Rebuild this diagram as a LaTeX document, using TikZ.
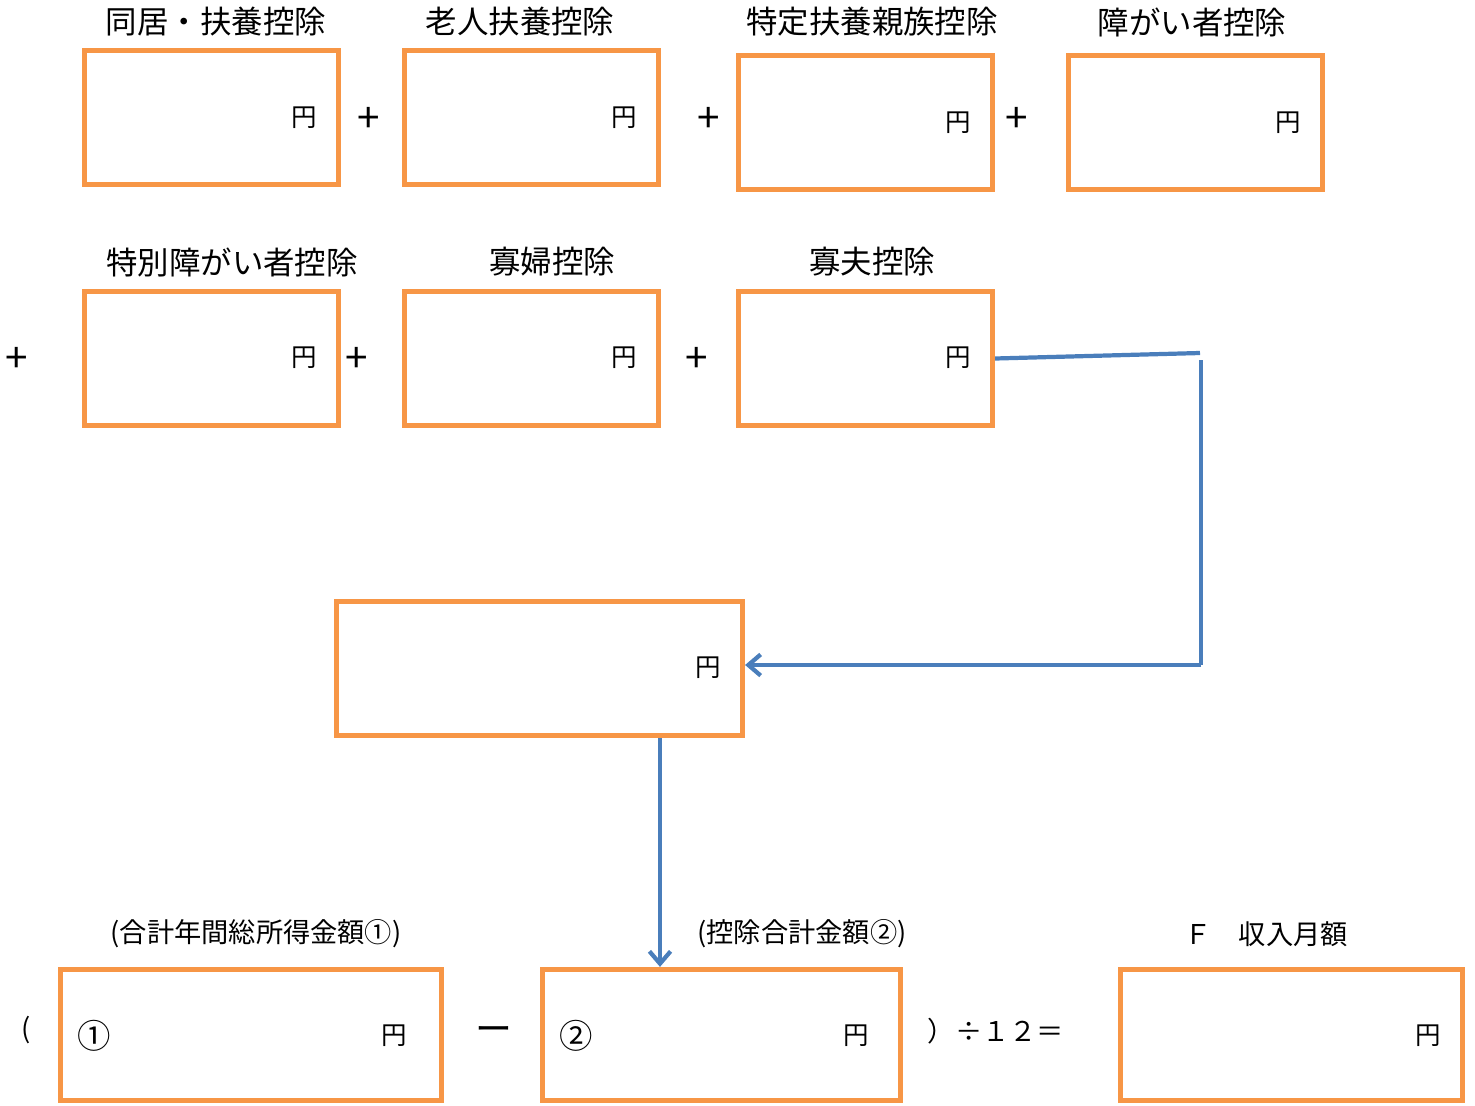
\documentclass[tikz,border=0pt]{standalone}
\usepackage{fontspec}
\setmainfont{Noto Sans CJK JP}
\usetikzlibrary{arrows.meta}
\definecolor{boxorange}{HTML}{F79646}
\definecolor{flowblue}{HTML}{4A7EBB}
\tikzset{
  kojo/.style={draw=boxorange, line width=3pt, minimum width=5.08cm, minimum height=2.68cm, inner sep=0pt},
  title/.style={font=\fontsize{17.9}{20}\selectfont, inner sep=0pt},
  yen/.style={font=\fontsize{14.5}{16}\selectfont, inner sep=0pt},
  op/.style={font=\fontsize{23}{25}\selectfont, inner sep=0pt},
  sub/.style={font=\fontsize{15.5}{17}\selectfont, inner sep=0pt},
  circ/.style={font=\fontsize{19}{21}\selectfont, inner sep=0pt},
  flow/.style={draw=flowblue, line width=2.4pt},
  tip/.style={-{Straight Barb[length=7pt,width=12pt]}},
}
\begin{document}
\begin{tikzpicture}[x=0.02cm, y=-0.02cm]
  \useasboundingbox (0,0) rectangle (1475,1106);
  % first row of deductions
  \node [kojo] (b1) at (211.5,117.5) {};
  \node [kojo] (b2) at (531.5,117.5) {};
  \node [kojo] (b3) at (865.5,122.5) {};
  \node [kojo] (b4) at (1195.5,122.5) {};
  \node [title] (t1) at (216,22) {同居・扶養控除};
  \node [title] (t2) at (520,22) {老人扶養控除};
  \node [title] (t3) at (872,22) {特定扶養親族控除};
  \node [title] (t4) at (1192,22) {障がい者控除};
  \node [yen] (y1) at (304,118) {円};
  \node [yen] (y2) at (624,118) {円};
  \node [yen] (y3) at (958,123) {円};
  \node [yen] (y4) at (1288,123) {円};
  \node [op] (p1) at (369,120) {+};
  \node [op] (p2) at (709,120) {+};
  \node [op] (p3) at (1017,120) {+};
  % second row
  \node [kojo] (b5) at (211.5,358.5) {};
  \node [kojo] (b6) at (531.5,358.5) {};
  \node [kojo] (b7) at (865.5,358.5) {};
  \node [title] (t5) at (232,262) {特別障がい者控除};
  \node [title] (t6) at (552,262) {寡婦控除};
  \node [title] (t7) at (872,262) {寡夫控除};
  \node [yen] (y5) at (304,358) {円};
  \node [yen] (y6) at (624,358) {円};
  \node [yen] (y7) at (958,358) {円};
  \node [op] (p4) at (17,360) {+};
  \node [op] (p5) at (357,360) {+};
  \node [op] (p6) at (697,360) {+};
  % total of deductions
  \node [kojo, minimum width=8.12cm] (sum) at (539.5,668.5) {};
  \node [yen] (ysum) at (708,668) {円};
  % bottom formula
  \node [kojo, minimum width=7.62cm, minimum height=2.62cm] (ba) at (251,1035) {};
  \node [kojo, minimum width=7.16cm, minimum height=2.62cm] (bb) at (721.5,1035) {};
  \node [kojo, minimum width=6.84cm, minimum height=2.62cm] (bc) at (1291.5,1035) {};
  \node [sub] (ta) at (256,934) {(合計年間総所得金額①)};
  \node [sub] (tb) at (802,934) {(控除合計金額②)};
  \node [sub] (tc) at (1266,934) {Ｆ　収入月額};
  \node [circ] (ca) at (94,1036) {①};
  \node [circ] (cb) at (576,1036) {②};
  \node [yen] (ya) at (394,1036) {円};
  \node [yen] (yb) at (856,1036) {円};
  \node [yen] (yc) at (1428,1036) {円};
  \node [sub] (lp) at (26,1030) {(};
  \node [sub, font=\fontsize{21}{23}\selectfont] (mi) at (494,1034) {ー};
  \node [sub] (dv) at (996,1031) {）÷１２＝};
  % connectors
  \coordinate (c1) at (1200,353);
  \coordinate (c2) at (1201,360);
  \coordinate (c3) at (1201,665);
  \coordinate (dn) at (660,738);
  \draw [flow] (b7.east) -- (c1);
  \draw [flow] (c2) -- (c3);
  \draw [flow, tip] (c3) -- (c3 -| sum.east);
  \draw [flow, tip] (dn) -- (dn |- bb.north);
\end{tikzpicture}
\end{document}
